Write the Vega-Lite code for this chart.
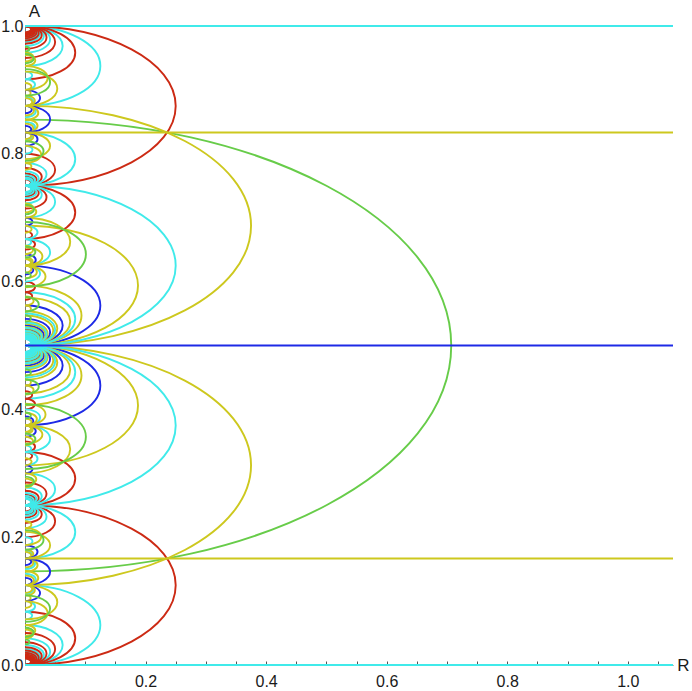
{
"$schema":"https://vega.github.io/schema/vega-lite/v6.json",
"width":648,"height":639,
"autosize":{"type":"none"},
"padding":{"left":25,"top":26,"right":19,"bottom":26},
"background":"white",
"config":{"view":{"stroke":null},"axis":{"grid":false,"labelFont":"Liberation Sans","labelFontSize":16,"labelColor":"#1a1a1a","titleFont":"Liberation Sans","titleFontSize":17,"titleFontWeight":"normal","titleColor":"#1a1a1a","domainColor":"#777777","tickColor":"#555555","tickSize":-4,"tickWidth":1}},
"datasets":{
"lines":[{"v":0,"k":"c"},{"v":0.166667,"k":"y"},{"v":0.5,"k":"b"},{"v":0.833333,"k":"y"},{"v":1,"k":"c"}],
"arcs":[
{"c":0.5,"h":0.353553,"k":"g"},
{"c":0.0625,"h":0.0625,"k":"c"},{"c":0.03125,"h":0.03125,"k":"c"},{"c":0.020833,"h":0.020833,"k":"c"},{"c":0.015625,"h":0.015625,"k":"c"},{"c":0.0125,"h":0.0125,"k":"c"},{"c":0.010417,"h":0.010417,"k":"c"},{"c":0.008929,"h":0.008929,"k":"c"},{"c":0.007813,"h":0.007813,"k":"c"},{"c":0.006944,"h":0.006944,"k":"c"},{"c":0.00625,"h":0.00625,"k":"c"},{"c":0.005682,"h":0.005682,"k":"c"},{"c":0.005208,"h":0.005208,"k":"c"},
{"c":0.125,"h":0.125,"k":"r"},{"c":0.041667,"h":0.041667,"k":"r"},{"c":0.025,"h":0.025,"k":"r"},{"c":0.017857,"h":0.017857,"k":"r"},{"c":0.013889,"h":0.013889,"k":"r"},{"c":0.011364,"h":0.011364,"k":"r"},{"c":0.009615,"h":0.009615,"k":"r"},{"c":0.008333,"h":0.008333,"k":"r"},{"c":0.007353,"h":0.007353,"k":"r"},{"c":0.006579,"h":0.006579,"k":"r"},{"c":0.005952,"h":0.005952,"k":"r"},{"c":0.005435,"h":0.005435,"k":"r"},{"c":0.005,"h":0.005,"k":"r"},
{"c":0.9375,"h":0.0625,"k":"c"},{"c":0.96875,"h":0.03125,"k":"c"},{"c":0.979167,"h":0.020833,"k":"c"},{"c":0.984375,"h":0.015625,"k":"c"},{"c":0.9875,"h":0.0125,"k":"c"},{"c":0.989583,"h":0.010417,"k":"c"},{"c":0.991071,"h":0.008929,"k":"c"},{"c":0.992188,"h":0.007813,"k":"c"},{"c":0.993056,"h":0.006944,"k":"c"},{"c":0.99375,"h":0.00625,"k":"c"},{"c":0.994318,"h":0.005682,"k":"c"},{"c":0.994792,"h":0.005208,"k":"c"},
{"c":0.875,"h":0.125,"k":"r"},{"c":0.958333,"h":0.041667,"k":"r"},{"c":0.975,"h":0.025,"k":"r"},{"c":0.982143,"h":0.017857,"k":"r"},{"c":0.986111,"h":0.013889,"k":"r"},{"c":0.988636,"h":0.011364,"k":"r"},{"c":0.990385,"h":0.009615,"k":"r"},{"c":0.991667,"h":0.008333,"k":"r"},{"c":0.992647,"h":0.007353,"k":"r"},{"c":0.993421,"h":0.006579,"k":"r"},{"c":0.994048,"h":0.005952,"k":"r"},{"c":0.994565,"h":0.005435,"k":"r"},{"c":0.995,"h":0.005,"k":"r"},
{"c":0.4375,"h":0.0625,"k":"b"},{"c":0.46875,"h":0.03125,"k":"b"},{"c":0.479167,"h":0.020833,"k":"b"},{"c":0.484375,"h":0.015625,"k":"b"},{"c":0.4875,"h":0.0125,"k":"b"},{"c":0.489583,"h":0.010417,"k":"b"},{"c":0.491071,"h":0.008929,"k":"b"},{"c":0.492188,"h":0.007813,"k":"b"},{"c":0.493056,"h":0.006944,"k":"b"},{"c":0.49375,"h":0.00625,"k":"b"},{"c":0.494318,"h":0.005682,"k":"b"},{"c":0.494792,"h":0.005208,"k":"b"},
{"c":0.3125,"h":0.1875,"k":"y"},{"c":0.40625,"h":0.09375,"k":"y"},{"c":0.453125,"h":0.046875,"k":"y"},{"c":0.4625,"h":0.0375,"k":"y"},{"c":0.473214,"h":0.026786,"k":"y"},{"c":0.476562,"h":0.023438,"k":"y"},{"c":0.48125,"h":0.01875,"k":"y"},{"c":0.482955,"h":0.017045,"k":"y"},{"c":0.485577,"h":0.014423,"k":"y"},{"c":0.486607,"h":0.013393,"k":"y"},{"c":0.488281,"h":0.011719,"k":"y"},{"c":0.488971,"h":0.011029,"k":"y"},{"c":0.490132,"h":0.009868,"k":"y"},{"c":0.490625,"h":0.009375,"k":"y"},{"c":0.491477,"h":0.008523,"k":"y"},{"c":0.491848,"h":0.008152,"k":"y"},{"c":0.4925,"h":0.0075,"k":"y"},{"c":0.492788,"h":0.007212,"k":"y"},{"c":0.493304,"h":0.006696,"k":"y"},{"c":0.493534,"h":0.006466,"k":"y"},{"c":0.493952,"h":0.006048,"k":"y"},{"c":0.494141,"h":0.005859,"k":"y"},{"c":0.494485,"h":0.005515,"k":"y"},{"c":0.494643,"h":0.005357,"k":"y"},
{"c":0.375,"h":0.125,"k":"c"},{"c":0.458333,"h":0.041667,"k":"c"},{"c":0.475,"h":0.025,"k":"c"},{"c":0.482143,"h":0.017857,"k":"c"},{"c":0.486111,"h":0.013889,"k":"c"},{"c":0.488636,"h":0.011364,"k":"c"},{"c":0.490385,"h":0.009615,"k":"c"},{"c":0.491667,"h":0.008333,"k":"c"},{"c":0.492647,"h":0.007353,"k":"c"},{"c":0.493421,"h":0.006579,"k":"c"},{"c":0.494048,"h":0.005952,"k":"c"},{"c":0.494565,"h":0.005435,"k":"c"},{"c":0.495,"h":0.005,"k":"c"},
{"c":0.5625,"h":0.0625,"k":"b"},{"c":0.53125,"h":0.03125,"k":"b"},{"c":0.520833,"h":0.020833,"k":"b"},{"c":0.515625,"h":0.015625,"k":"b"},{"c":0.5125,"h":0.0125,"k":"b"},{"c":0.510417,"h":0.010417,"k":"b"},{"c":0.508929,"h":0.008929,"k":"b"},{"c":0.507812,"h":0.007813,"k":"b"},{"c":0.506944,"h":0.006944,"k":"b"},{"c":0.50625,"h":0.00625,"k":"b"},{"c":0.505682,"h":0.005682,"k":"b"},{"c":0.505208,"h":0.005208,"k":"b"},
{"c":0.6875,"h":0.1875,"k":"y"},{"c":0.59375,"h":0.09375,"k":"y"},{"c":0.546875,"h":0.046875,"k":"y"},{"c":0.5375,"h":0.0375,"k":"y"},{"c":0.526786,"h":0.026786,"k":"y"},{"c":0.523438,"h":0.023438,"k":"y"},{"c":0.51875,"h":0.01875,"k":"y"},{"c":0.517045,"h":0.017045,"k":"y"},{"c":0.514423,"h":0.014423,"k":"y"},{"c":0.513393,"h":0.013393,"k":"y"},{"c":0.511719,"h":0.011719,"k":"y"},{"c":0.511029,"h":0.011029,"k":"y"},{"c":0.509868,"h":0.009868,"k":"y"},{"c":0.509375,"h":0.009375,"k":"y"},{"c":0.508523,"h":0.008523,"k":"y"},{"c":0.508152,"h":0.008152,"k":"y"},{"c":0.5075,"h":0.0075,"k":"y"},{"c":0.507212,"h":0.007212,"k":"y"},{"c":0.506696,"h":0.006696,"k":"y"},{"c":0.506466,"h":0.006466,"k":"y"},{"c":0.506048,"h":0.006048,"k":"y"},{"c":0.505859,"h":0.005859,"k":"y"},{"c":0.505515,"h":0.005515,"k":"y"},{"c":0.505357,"h":0.005357,"k":"y"},
{"c":0.625,"h":0.125,"k":"c"},{"c":0.541667,"h":0.041667,"k":"c"},{"c":0.525,"h":0.025,"k":"c"},{"c":0.517857,"h":0.017857,"k":"c"},{"c":0.513889,"h":0.013889,"k":"c"},{"c":0.511364,"h":0.011364,"k":"c"},{"c":0.509615,"h":0.009615,"k":"c"},{"c":0.508333,"h":0.008333,"k":"c"},{"c":0.507353,"h":0.007353,"k":"c"},{"c":0.506579,"h":0.006579,"k":"c"},{"c":0.505952,"h":0.005952,"k":"c"},{"c":0.505435,"h":0.005435,"k":"c"},{"c":0.505,"h":0.005,"k":"c"},
{"c":0.291667,"h":0.041667,"k":"r"},{"c":0.225,"h":0.025,"k":"r"},{"c":0.267857,"h":0.017857,"k":"r"},{"c":0.236111,"h":0.013889,"k":"r"},{"c":0.261364,"h":0.011364,"k":"r"},{"c":0.240385,"h":0.009615,"k":"r"},{"c":0.258333,"h":0.008333,"k":"r"},{"c":0.242647,"h":0.007353,"k":"r"},{"c":0.256579,"h":0.006579,"k":"r"},{"c":0.244048,"h":0.005952,"k":"r"},{"c":0.255435,"h":0.005435,"k":"r"},{"c":0.245,"h":0.005,"k":"r"},
{"c":0.208333,"h":0.041667,"k":"c"},{"c":0.275,"h":0.025,"k":"c"},{"c":0.232143,"h":0.017857,"k":"c"},{"c":0.263889,"h":0.013889,"k":"c"},{"c":0.238636,"h":0.011364,"k":"c"},{"c":0.259615,"h":0.009615,"k":"c"},{"c":0.241667,"h":0.008333,"k":"c"},{"c":0.257353,"h":0.007353,"k":"c"},{"c":0.243421,"h":0.006579,"k":"c"},{"c":0.255952,"h":0.005952,"k":"c"},{"c":0.244565,"h":0.005435,"k":"c"},{"c":0.255,"h":0.005,"k":"c"},
{"c":0.708333,"h":0.041667,"k":"r"},{"c":0.775,"h":0.025,"k":"r"},{"c":0.732143,"h":0.017857,"k":"r"},{"c":0.763889,"h":0.013889,"k":"r"},{"c":0.738636,"h":0.011364,"k":"r"},{"c":0.759615,"h":0.009615,"k":"r"},{"c":0.741667,"h":0.008333,"k":"r"},{"c":0.757353,"h":0.007353,"k":"r"},{"c":0.743421,"h":0.006579,"k":"r"},{"c":0.755952,"h":0.005952,"k":"r"},{"c":0.744565,"h":0.005435,"k":"r"},{"c":0.755,"h":0.005,"k":"r"},
{"c":0.791667,"h":0.041667,"k":"c"},{"c":0.725,"h":0.025,"k":"c"},{"c":0.767857,"h":0.017857,"k":"c"},{"c":0.736111,"h":0.013889,"k":"c"},{"c":0.761364,"h":0.011364,"k":"c"},{"c":0.740385,"h":0.009615,"k":"c"},{"c":0.758333,"h":0.008333,"k":"c"},{"c":0.742647,"h":0.007353,"k":"c"},{"c":0.756579,"h":0.006579,"k":"c"},{"c":0.744048,"h":0.005952,"k":"c"},{"c":0.755435,"h":0.005435,"k":"c"},{"c":0.745,"h":0.005,"k":"c"},
{"c":0.077381,"h":0.005952,"k":"c"},{"c":0.091667,"h":0.008333,"k":"c"},{"c":0.408333,"h":0.008333,"k":"r"},{"c":0.422619,"h":0.005952,"k":"r"},{"c":0.158333,"h":0.008333,"k":"c"},{"c":0.341667,"h":0.008333,"k":"r"},{"c":0.327381,"h":0.005952,"k":"r"},{"c":0.172619,"h":0.005952,"k":"c"},
{"c":0.922619,"h":0.005952,"k":"c"},{"c":0.908333,"h":0.008333,"k":"c"},{"c":0.591667,"h":0.008333,"k":"r"},{"c":0.577381,"h":0.005952,"k":"r"},{"c":0.841667,"h":0.008333,"k":"c"},{"c":0.658333,"h":0.008333,"k":"r"},{"c":0.672619,"h":0.005952,"k":"r"},{"c":0.827381,"h":0.005952,"k":"c"},
{"c":0.15625,"h":0.010417,"k":"y"},{"c":0.159722,"h":0.006944,"k":"y"},{"c":0.173611,"h":0.006944,"k":"y"},{"c":0.171875,"h":0.005208,"k":"y"},{"c":0.094643,"h":0.005357,"k":"y"},{"c":0.104688,"h":0.004688,"k":"y"},
{"c":0.84375,"h":0.010417,"k":"y"},{"c":0.840278,"h":0.006944,"k":"y"},{"c":0.826389,"h":0.006944,"k":"y"},{"c":0.828125,"h":0.005208,"k":"y"},{"c":0.905357,"h":0.005357,"k":"y"},{"c":0.895312,"h":0.004688,"k":"y"},
{"c":0.133929,"h":0.008929,"k":"c"},{"c":0.118056,"h":0.006944,"k":"c"},{"c":0.1125,"h":0.0125,"k":"b"},{"c":0.145833,"h":0.020833,"k":"b"},{"c":0.130682,"h":0.005682,"k":"b"},{"c":0.098214,"h":0.026786,"k":"y"},{"c":0.136029,"h":0.011029,"k":"y"},{"c":0.118952,"h":0.006048,"k":"y"},{"c":0.116848,"h":0.008152,"k":"y"},{"c":0.1325,"h":0.0075,"k":"y"},
{"c":0.354167,"h":0.020833,"k":"c"},{"c":0.3875,"h":0.0125,"k":"c"},{"c":0.369318,"h":0.005682,"k":"c"},{"c":0.366071,"h":0.008929,"k":"b"},{"c":0.381944,"h":0.006944,"k":"b"},{"c":0.360577,"h":0.014423,"k":"y"},{"c":0.392045,"h":0.017045,"k":"y"},{"c":0.369932,"h":0.005068,"k":"y"},{"c":0.380357,"h":0.005357,"k":"y"},{"c":0.368534,"h":0.006466,"k":"y"},{"c":0.3375,"h":0.0375,"k":"y"},{"c":0.384868,"h":0.009868,"k":"y"},
{"c":0.053977,"h":0.008523,"k":"y"},{"c":0.08125,"h":0.01875,"k":"y"},{"c":0.19375,"h":0.00625,"k":"c"},{"c":0.177083,"h":0.010417,"k":"b"},{"c":0.200893,"h":0.013393,"k":"y"},{"c":0.322917,"h":0.010417,"k":"c"},{"c":0.30625,"h":0.00625,"k":"b"},{"c":0.318015,"h":0.005515,"k":"y"},{"c":0.430288,"h":0.007212,"k":"y"},{"c":0.442434,"h":0.004934,"k":"y"},{"c":0.048611,"h":0.006944,"k":"y"},{"c":0.1875,"h":0.020833,"k":"y"},{"c":0.284722,"h":0.006944,"k":"y"},{"c":0.161458,"h":0.005208,"k":"b"},{"c":0.290625,"h":0.009375,"k":"y"},{"c":0.338542,"h":0.005208,"k":"c"},{"c":0.350446,"h":0.006696,"k":"y"},{"c":0.219643,"h":0.005357,"k":"y"},
{"c":0.866071,"h":0.008929,"k":"c"},{"c":0.881944,"h":0.006944,"k":"c"},{"c":0.8875,"h":0.0125,"k":"b"},{"c":0.854167,"h":0.020833,"k":"b"},{"c":0.869318,"h":0.005682,"k":"b"},{"c":0.901786,"h":0.026786,"k":"y"},{"c":0.863971,"h":0.011029,"k":"y"},{"c":0.881048,"h":0.006048,"k":"y"},{"c":0.883152,"h":0.008152,"k":"y"},{"c":0.8675,"h":0.0075,"k":"y"},
{"c":0.645833,"h":0.020833,"k":"c"},{"c":0.6125,"h":0.0125,"k":"c"},{"c":0.630682,"h":0.005682,"k":"c"},{"c":0.633929,"h":0.008929,"k":"b"},{"c":0.618056,"h":0.006944,"k":"b"},{"c":0.639423,"h":0.014423,"k":"y"},{"c":0.607955,"h":0.017045,"k":"y"},{"c":0.630068,"h":0.005068,"k":"y"},{"c":0.619643,"h":0.005357,"k":"y"},{"c":0.631466,"h":0.006466,"k":"y"},{"c":0.6625,"h":0.0375,"k":"y"},{"c":0.615132,"h":0.009868,"k":"y"},
{"c":0.946023,"h":0.008523,"k":"y"},{"c":0.91875,"h":0.01875,"k":"y"},{"c":0.80625,"h":0.00625,"k":"c"},{"c":0.822917,"h":0.010417,"k":"b"},{"c":0.799107,"h":0.013393,"k":"y"},{"c":0.677083,"h":0.010417,"k":"c"},{"c":0.69375,"h":0.00625,"k":"b"},{"c":0.681985,"h":0.005515,"k":"y"},{"c":0.569712,"h":0.007212,"k":"y"},{"c":0.557566,"h":0.004934,"k":"y"},{"c":0.951389,"h":0.006944,"k":"y"},{"c":0.8125,"h":0.020833,"k":"y"},{"c":0.715278,"h":0.006944,"k":"y"},{"c":0.838542,"h":0.005208,"k":"b"},{"c":0.709375,"h":0.009375,"k":"y"},{"c":0.661458,"h":0.005208,"k":"c"},{"c":0.649554,"h":0.006696,"k":"y"},{"c":0.780357,"h":0.005357,"k":"y"},
{"c":0.088235,"h":0.020798,"k":"g"},{"c":0.353659,"h":0.008623,"k":"g"},{"c":0.357142,"h":0.050508,"k":"g"},{"c":0.390412,"h":0.004846,"k":"g"},{"c":0.05102,"h":0.007216,"k":"g"},{"c":0.195652,"h":0.015372,"k":"g"},{"c":0.435484,"h":0.011405,"k":"g"},{"c":0.036083,"h":0.003645,"k":"g"},{"c":0.287234,"h":0.007523,"k":"g"},{"c":0.457746,"h":0.00498,"k":"g"},
{"c":0.911765,"h":0.020798,"k":"g"},{"c":0.646341,"h":0.008623,"k":"g"},{"c":0.642858,"h":0.050508,"k":"g"},{"c":0.609588,"h":0.004846,"k":"g"},{"c":0.94898,"h":0.007216,"k":"g"},{"c":0.804348,"h":0.015372,"k":"g"},{"c":0.564516,"h":0.011405,"k":"g"},{"c":0.963917,"h":0.003645,"k":"g"},{"c":0.712766,"h":0.007523,"k":"g"},{"c":0.542254,"h":0.00498,"k":"g"}
]},
"layer":[
{"data":{"name":"arcs"},
 "mark":{"type":"point","shape":"M0,-1C1.04197,-1,1.88667,-0.55228,1.88667,0C1.88667,0.55228,1.04197,1,0,1","filled":false,"opacity":1,"strokeWidth":1.9},
 "encoding":{
  "x":{"datum":0,"type":"quantitative","scale":{"domain":[0,1.075],"nice":false,"zero":false},
       "axis":{"title":"R","values":[0.05,0.1,0.15,0.2,0.25,0.3,0.35,0.4,0.45,0.5,0.55,0.6,0.65,0.7,0.75,0.8,0.85,0.9,0.95,1.0,1.05],
               "labelExpr":"abs(datum.value*5-round(datum.value*5))<0.001 ? format(datum.value,'.1f') : ''",
               "labelPadding":12,"labelFlush":false,"labelOverlap":false,
               "titleX":658,"titleY":0,"titleAngle":0,"titleAlign":"center","titleBaseline":"middle"}},
  "y":{"field":"c","type":"quantitative","scale":{"domain":[0,1],"nice":false,"zero":false},
       "axis":{"title":"A","values":[0,0.05,0.1,0.15,0.2,0.25,0.3,0.35,0.4,0.45,0.5,0.55,0.6,0.65,0.7,0.75,0.8,0.85,0.9,0.95,1.0],
               "labelExpr":"abs(datum.value*5-round(datum.value*5))<0.001 ? format(datum.value,'.1f') : ''",
               "labelPadding":6,"labelFlush":false,"labelOverlap":false,
               "titleX":9,"titleY":-15,"titleAngle":0,"titleAlign":"center","titleBaseline":"middle"}},
  "size":{"field":"h","type":"quantitative","scale":{"type":"pow","exponent":2,"domain":[0,1],"range":[0,1633284]},"legend":null},
  "color":{"field":"k","type":"nominal","scale":{"domain":["r","y","g","c","b"],"range":["#cc2a14","#cdc81e","#67cc49","#40eaea","#1e2ae6"]},"legend":null}
 }},
{"data":{"name":"lines"},
 "mark":{"type":"rule","strokeWidth":1.9},
 "encoding":{"y":{"field":"v","type":"quantitative"},"color":{"field":"k","type":"nominal","legend":null}}}
]
}
